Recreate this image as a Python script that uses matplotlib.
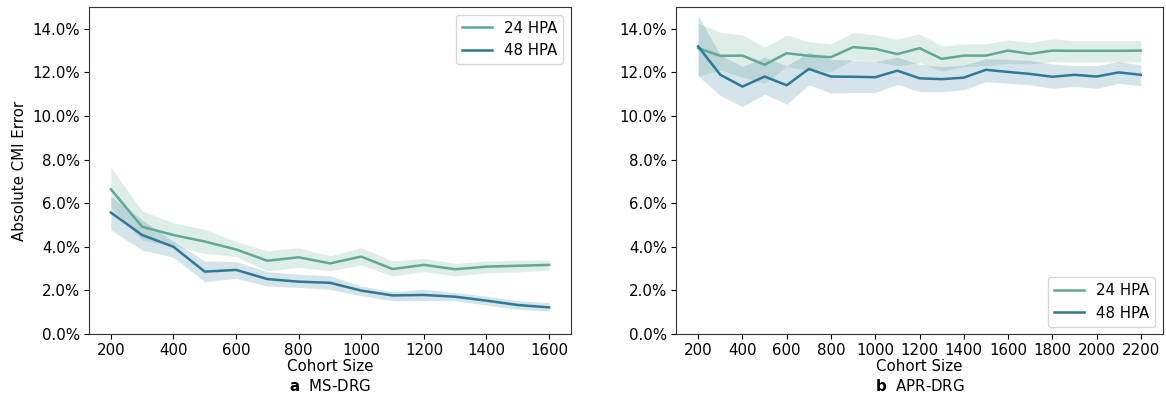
import numpy as np
import matplotlib
matplotlib.use("Agg")
import matplotlib.pyplot as plt
from matplotlib.ticker import PercentFormatter

# MS-DRG panel
ms_sizes = [200, 300, 400, 500, 600, 700, 800, 900, 1000, 1100, 1200, 1300, 1400, 1500, 1600]
ms_24 = [6.64, 4.92, 4.54, 4.24, 3.88, 3.36, 3.52, 3.24, 3.55, 2.98, 3.17, 2.97, 3.09, 3.13, 3.17]
ms_24_lo = [5.80, 4.30, 4.05, 3.70, 3.55, 2.90, 3.06, 2.90, 3.17, 2.66, 2.86, 2.67, 2.81, 2.84, 2.94]
ms_24_hi = [7.65, 5.64, 5.10, 4.80, 4.24, 3.82, 3.96, 3.59, 3.96, 3.35, 3.47, 3.24, 3.35, 3.39, 3.39]
ms_48 = [5.57, 4.54, 4.00, 2.86, 2.94, 2.52, 2.40, 2.35, 1.99, 1.77, 1.79, 1.71, 1.53, 1.33, 1.22]
ms_48_lo = [4.77, 3.85, 3.52, 2.40, 2.55, 2.20, 2.14, 2.05, 1.76, 1.53, 1.53, 1.53, 1.33, 1.13, 1.05]
ms_48_hi = [6.33, 5.23, 4.24, 3.35, 3.32, 2.86, 2.74, 2.67, 2.20, 1.94, 2.05, 1.91, 1.74, 1.53, 1.44]

# APR-DRG panel
apr_sizes = list(range(200, 2300, 100))
apr_24 = [13.11, 12.76, 12.77, 12.35, 12.88, 12.76, 12.70, 13.16, 13.08, 12.84, 13.11,
          12.62, 12.77, 12.77, 13.00, 12.85, 13.00, 12.99, 12.99, 12.99, 13.00]
apr_24_lo = [11.84, 12.10, 11.79, 11.50, 12.27, 12.09, 12.04, 12.60, 12.50, 12.30, 12.45,
             12.07, 12.27, 12.30, 12.42, 12.39, 12.50, 12.47, 12.48, 12.48, 12.48]
apr_24_hi = [14.26, 13.84, 13.72, 13.16, 13.72, 13.41, 13.31, 13.83, 13.72, 13.52, 13.77,
             13.22, 13.31, 13.31, 13.49, 13.37, 13.54, 13.46, 13.46, 13.46, 13.46]
apr_48 = [13.19, 11.89, 11.35, 11.81, 11.41, 12.16, 11.81, 11.80, 11.78, 12.08, 11.73,
          11.69, 11.76, 12.12, 12.02, 11.93, 11.80, 11.89, 11.81, 12.00, 11.89]
apr_48_lo = [11.84, 10.94, 10.43, 11.00, 10.54, 11.43, 11.05, 11.08, 11.08, 11.45, 11.12,
             11.12, 11.20, 11.58, 11.50, 11.43, 11.27, 11.35, 11.27, 11.50, 11.38]
apr_48_hi = [14.60, 12.80, 12.27, 12.70, 12.30, 12.93, 12.60, 12.57, 12.50, 12.70, 12.37,
             12.27, 12.34, 12.62, 12.60, 12.54, 12.39, 12.31, 12.31, 12.50, 12.34]

c24 = "#5fa894"
c48 = "#2f7898"
fs = 10.8

fig = plt.figure(figsize=(11.66, 3.98), dpi=100)
ax1 = fig.add_axes([0.0763, 0.1608, 0.4134, 0.8216])
ax2 = fig.add_axes([0.5798, 0.1608, 0.4176, 0.8216])


def draw(ax, x, m24, lo24, hi24, m48, lo48, hi48):
    x = np.array(x)
    for m, lo, hi, c, lab in [(m24, lo24, hi24, c24, "24 HPA"), (m48, lo48, hi48, c48, "48 HPA")]:
        ax.plot(x, np.array(m) / 100, color=c, lw=1.8, label=lab)
        ax.fill_between(x, np.array(lo) / 100, np.array(hi) / 100, color=c, alpha=0.2, lw=0)
    ax.set_ylim(0, 0.15)
    ax.set_yticks(np.arange(0, 0.141, 0.02))
    ax.yaxis.set_major_formatter(PercentFormatter(1.0, decimals=1))
    ax.tick_params(labelsize=fs, pad=3)
    for s in ax.spines.values():
        s.set_color("#333333")


draw(ax1, ms_sizes, ms_24, ms_24_lo, ms_24_hi, ms_48, ms_48_lo, ms_48_hi)
ax1.set_xticks(range(200, 1601, 200))
ax1.set_xlabel("Cohort Size", fontsize=fs, labelpad=1)
ax1.set_ylabel("Absolute CMI Error", fontsize=fs)
ax1.legend(loc="upper right", fontsize=fs)
ax1.text(0.5, -0.135, r"$\bf{a}$  MS-DRG", transform=ax1.transAxes, ha="center", va="top", fontsize=fs)

draw(ax2, apr_sizes, apr_24, apr_24_lo, apr_24_hi, apr_48, apr_48_lo, apr_48_hi)
ax2.set_xticks(range(200, 2201, 200))
ax2.set_xlabel("Cohort Size", fontsize=fs, labelpad=1)
ax2.legend(loc="lower right", fontsize=fs)
ax2.text(0.5, -0.135, r"$\bf{b}$  APR-DRG", transform=ax2.transAxes, ha="center", va="top", fontsize=fs)

fig.savefig("out.png", dpi=100)
